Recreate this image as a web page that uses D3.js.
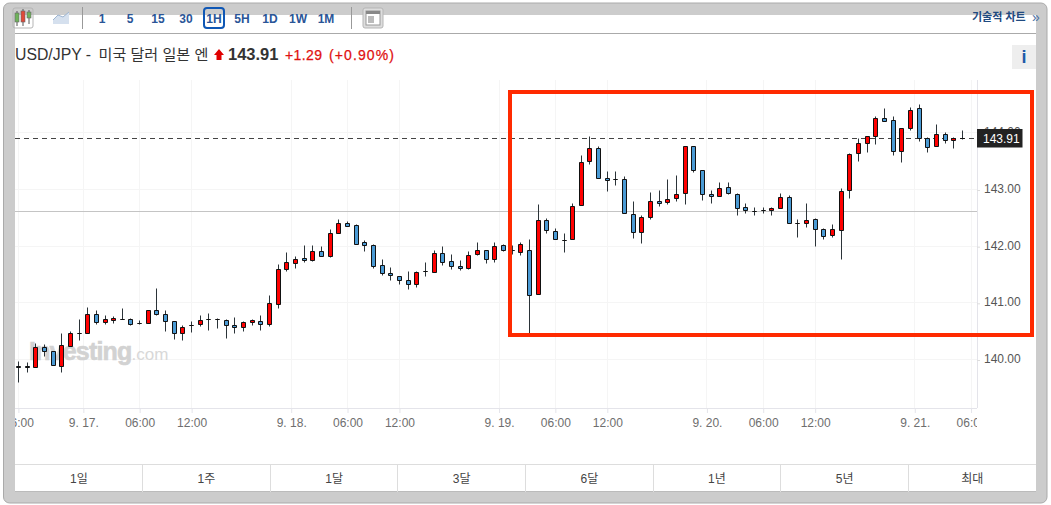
<!DOCTYPE html>
<html>
<head>
<meta charset="utf-8">
<script src="https://cdn.jsdelivr.net/npm/d3@7"></script>
<style>
  html, body { margin: 0; padding: 0; background: #fff; overflow: hidden; }
  svg { display: block; }
  text { font-family: "Liberation Sans", "Noto Sans CJK KR", sans-serif; }
</style>
</head>
<body>
<svg id="chart"></svg>
<script>
// candles, hourly
const opens = [139.88,139.88,139.86,140.21,140.14,139.87,140.23,140.46,140.46,140.79,
  140.66,140.69,140.71,140.71,140.64,140.64,140.86,140.80,140.67,140.46,
  140.60,140.61,140.71,140.71,140.69,140.60,140.57,140.65,140.67,140.61,
  140.97,141.59,141.70,141.79,141.75,141.91,141.82,142.23,142.40,142.37,
  142.07,142.01,141.66,141.52,141.47,141.40,141.33,141.56,141.54,141.87,
  141.73,141.64,141.61,141.86,141.93,141.77,142.01,141.92,141.89,141.93,
  141.15,142.46,142.26,142.10,142.12,142.72,143.50,143.73,143.20,143.18,
  143.18,142.56,142.24,142.51,142.79,142.77,142.84,142.93,143.76,143.34,
  142.91,142.88,143.04,142.91,142.69,142.62,142.63,142.63,142.67,142.86,
  142.40,142.40,142.47,142.30,142.19,142.28,142.99,143.64,143.81,143.94,
  144.26,144.22,143.67,144.08,144.43,143.90,143.76,143.97,143.87,143.90];
const highs = [139.97,139.95,140.29,140.26,140.14,140.46,140.50,140.71,140.92,140.87,
  140.78,140.76,140.90,140.73,140.69,140.87,141.26,140.86,140.67,140.60,
  140.67,140.78,140.81,140.73,140.71,140.74,140.67,140.70,140.77,141.13,
  141.68,141.89,141.82,142.01,142.01,142.00,142.30,142.47,142.44,142.39,
  142.10,142.03,141.77,141.63,141.47,141.56,141.56,141.71,141.93,142.00,
  141.86,141.75,141.91,142.07,141.93,142.07,142.03,142.01,142.07,142.11,
  142.73,142.49,142.31,142.23,142.76,143.60,143.94,143.76,143.32,143.32,
  143.23,142.79,142.54,142.95,142.98,143.18,143.25,143.76,143.76,143.34,
  142.98,143.13,143.13,142.93,142.76,142.69,142.69,142.69,142.93,142.90,
  142.47,142.76,142.49,142.31,142.39,143.02,143.64,143.90,143.94,144.29,
  144.43,144.29,144.08,144.45,144.50,143.92,144.15,144.01,143.92,144.04];
const lows = [139.59,139.77,139.86,140.05,139.90,139.77,140.23,140.33,140.46,140.61,
  140.61,140.63,140.71,140.60,140.61,140.64,140.77,140.49,140.35,140.33,
  140.47,140.58,140.51,140.54,140.37,140.46,140.49,140.60,140.51,140.58,
  140.90,141.55,141.60,141.71,141.73,141.82,141.80,142.23,142.35,142.03,
  141.90,141.60,141.49,141.39,141.32,141.23,141.27,141.46,141.54,141.66,
  141.59,141.57,141.59,141.84,141.70,141.71,141.91,141.86,141.84,140.46,
  141.15,142.22,142.12,141.89,142.12,142.72,143.44,143.20,142.96,143.07,
  142.58,142.13,142.04,142.47,142.70,142.73,142.78,142.73,143.30,142.80,
  142.75,142.88,142.91,142.54,142.57,142.54,142.57,142.54,142.67,142.40,
  142.15,142.33,141.99,142.12,142.15,141.76,142.84,143.49,143.65,143.79,
  144.20,143.60,143.47,144.04,143.84,143.65,143.76,143.81,143.72,143.88];
const closes = [139.86,139.86,140.21,140.14,139.90,140.25,140.46,140.46,140.79,140.66,
  140.71,140.73,140.71,140.61,140.64,140.87,140.80,140.67,140.46,140.57,
  140.60,140.69,140.71,140.71,140.60,140.57,140.65,140.69,140.61,140.99,
  141.59,141.71,141.77,141.75,141.91,141.82,142.23,142.40,142.35,142.03,
  142.01,141.64,141.52,141.49,141.40,141.33,141.54,141.56,141.87,141.71,
  141.64,141.61,141.84,141.93,141.77,142.00,141.93,141.92,142.03,141.13,
  142.46,142.28,142.12,142.10,142.70,143.48,143.73,143.20,143.16,143.18,
  142.58,142.24,142.51,142.79,142.76,142.83,142.91,143.76,143.34,142.91,
  142.88,143.02,142.93,142.67,142.63,142.62,142.63,142.67,142.86,142.40,
  142.40,142.46,142.30,142.17,142.30,142.97,143.62,143.81,143.94,144.26,
  144.20,143.67,144.08,144.40,143.90,143.74,143.97,143.87,143.90,143.90];

const priceTicks = [140, 141, 142, 143, 144];
const timeTickHours = [0, 7.5, 14, 20, 31.5, 38, 44, 55.5, 62, 68, 79.5, 86, 92, 103.5, 110];
const timeTickLabels = ['16:00','9. 17.','06:00','12:00','9. 18.','06:00','12:00','9. 19.','06:00','12:00','9. 20.','06:00','12:00','9. 21.','06:00'];
const lastPrice = 143.91;
const prevClose = 142.62;
const intervals = ['1','5','15','30','1H','5H','1D','1W','1M'];
const ranges = ['1일','1주','1달','3달','6달','1년','5년','최대'];

const width = 1051, height = 505;
const svg = d3.select('#chart').attr('width', width).attr('height', height);

const plotLeft = 15, plotRight = 977, plotTop = 80, plotBottom = 408;
const x = d3.scaleLinear().domain([0, 109]).range([18.4, 962.4]);
const y = d3.scaleLinear().domain([140, 143]).range([359.5, 189.5]);
const crisp = v => Math.floor(v) + 0.5;

// page frame
svg.append('rect').attr('x', 0).attr('y', 0).attr('width', width).attr('height', height).attr('fill', '#fff');
svg.append('rect').attr('x', 3.5).attr('y', 3).attr('width', 1043.5).attr('height', 500).attr('rx', 6)
  .attr('fill', '#ccc').attr('stroke', '#aaa');
svg.append('rect').attr('x', 15).attr('y', 15).attr('width', 1021).attr('height', 477).attr('fill', '#fff');
svg.append('line').attr('x1', 15).attr('x2', 1036).attr('y1', 33.5).attr('y2', 33.5).attr('stroke', '#aaa');

// toolbar
const toolbar = svg.append('g');
toolbar.append('rect').attr('x', 13).attr('y', 8).attr('width', 20).attr('height', 20).attr('rx', 2)
  .attr('fill', 'none').attr('stroke', '#b5b5b5');
[[17, 11, 26, 13, 22, '#6fb35c'], [23, 9, 26, 11, 22, '#e04a3a'], [29, 10, 24, 12, 18, '#6fb35c']].forEach(c => {
  toolbar.append('line').attr('x1', c[0]).attr('x2', c[0]).attr('y1', c[1]).attr('y2', c[2]).attr('stroke', '#555');
  toolbar.append('rect').attr('x', c[0] - 2).attr('y', c[3]).attr('width', 4).attr('height', c[4] - c[3])
    .attr('fill', c[5]).attr('stroke', '#666').attr('stroke-width', 0.6);
});
toolbar.append('path').attr('d', 'M53 20 L58 15 L63 17 L69 12 V24 H53 Z').attr('fill', '#d5e0ee').attr('stroke', 'none');
toolbar.append('path').attr('d', 'M53 20 L58 15 L63 17 L69 12').attr('fill', 'none').attr('stroke', '#9db4d0');
[82.5, 351.5].forEach(px => toolbar.append('line').attr('x1', px).attr('x2', px).attr('y1', 7).attr('y2', 29).attr('stroke', '#999'));

const intervalX = d3.scalePoint().domain(intervals).range([102, 326]);
toolbar.selectAll('text.interval').data(intervals).enter().append('text')
  .attr('class', 'interval')
  .attr('x', d => intervalX(d)).attr('y', 22.5)
  .attr('text-anchor', 'middle').attr('font-size', 12).attr('font-weight', 700)
  .attr('fill', '#2a5597').text(d => d);
toolbar.append('rect').attr('x', 204).attr('y', 8).attr('width', 20).attr('height', 20).attr('rx', 3)
  .attr('fill', 'none').attr('stroke', '#0f57b5').attr('stroke-width', 2);
toolbar.append('rect').attr('x', 363).attr('y', 8).attr('width', 20).attr('height', 20).attr('rx', 2)
  .attr('fill', '#ddd').attr('stroke', '#b5b5b5');
toolbar.append('rect').attr('x', 366).attr('y', 11).attr('width', 14).attr('height', 14).attr('fill', '#fff').attr('stroke', '#999');
toolbar.append('rect').attr('x', 366).attr('y', 11).attr('width', 14).attr('height', 3).attr('fill', '#888');
toolbar.append('rect').attr('x', 368).attr('y', 16).attr('width', 6).attr('height', 7).attr('fill', '#bbb');
toolbar.append('text').attr('x', 972).attr('y', 21).attr('font-size', 11).attr('font-weight', 700)
  .attr('font-family', '"Noto Sans CJK KR"').attr('fill', '#1f4a80').text('기술적 차트');
toolbar.append('text').attr('x', 1032).attr('y', 21.5).attr('font-size', 14).attr('fill', '#4a6fa5').text('»');

// title row
svg.append('text').attr('x', 15).attr('y', 60).attr('font-size', 15.8).attr('fill', '#333').text('USD/JPY -');
svg.append('text').attr('x', 98.5).attr('y', 60).attr('font-size', 15.1).attr('fill', '#333').text('미국 달러 일본 엔');
svg.append('path').attr('d', 'M219 49 L224 55 H221.5 V60 H216.5 V55 H214 Z').attr('fill', '#e00000');
svg.append('text').attr('x', 228).attr('y', 60).attr('font-size', 16.5).attr('font-weight', 700).attr('fill', '#333').text(lastPrice.toFixed(2));
svg.append('text').attr('x', 285).attr('y', 60).attr('font-size', 14).attr('font-family', 'Roboto').attr('font-weight', 500).attr('letter-spacing', 0.4).attr('stroke', '#e01010').attr('stroke-width', 0.25).attr('fill', '#e01010').text('+1.29');
svg.append('text').attr('x', 329).attr('y', 60).attr('font-size', 14).attr('font-family', 'Roboto').attr('font-weight', 500).attr('letter-spacing', 1.1).attr('stroke', '#e01010').attr('stroke-width', 0.25).attr('fill', '#e01010').text('(+0.90%)');
svg.append('rect').attr('x', 1012).attr('y', 45).attr('width', 24).attr('height', 24).attr('fill', '#eee');
svg.append('text').attr('x', 1024).attr('y', 63).attr('text-anchor', 'middle').attr('font-size', 18).attr('font-weight', 700)
  .attr('font-family', '"Liberation Serif"').attr('fill', '#1f5aa8').text('i');

// grid
const grid = svg.append('g');
grid.selectAll('line.h').data(priceTicks).enter().append('line')
  .attr('x1', plotLeft).attr('x2', plotRight)
  .attr('y1', d => crisp(y(d))).attr('y2', d => crisp(y(d)))
  .attr('stroke', '#f5f5f5');
grid.selectAll('line.v').data(timeTickHours).enter().append('line')
  .attr('x1', d => crisp(x(d))).attr('x2', d => crisp(x(d)))
  .attr('y1', plotTop).attr('y2', plotBottom)
  .attr('stroke', '#f5f5f5');

// watermark
const mark = svg.append('text').attr('x', 29).attr('y', 360);
mark.append('tspan').attr('font-size', 25).attr('font-weight', 700).attr('letter-spacing', -0.8)
  .attr('fill', '#d2d2d2').attr('stroke', '#d2d2d2').attr('stroke-width', 0.6).text('Investing');
mark.append('tspan').attr('font-size', 17).attr('fill', '#d8d8d8').text('.com');

// axes frame
svg.append('line').attr('x1', plotLeft).attr('x2', plotRight).attr('y1', plotBottom + 0.5).attr('y2', plotBottom + 0.5).attr('stroke', '#e4e4ea');
svg.append('line').attr('x1', plotRight + 0.5).attr('x2', plotRight + 0.5).attr('y1', plotTop).attr('y2', plotBottom).attr('stroke', '#e4e4ea');

// price reference lines
svg.append('line').attr('x1', plotLeft).attr('x2', plotRight)
  .attr('y1', crisp(y(prevClose))).attr('y2', crisp(y(prevClose)))
  .attr('stroke', '#c4c4c4');
svg.append('line').attr('x1', plotLeft).attr('x2', plotRight)
  .attr('y1', crisp(y(lastPrice) + 0.5)).attr('y2', crisp(y(lastPrice) + 0.5))
  .attr('stroke', '#444').attr('stroke-dasharray', '5,4');

// candles
const candles = svg.append('g').selectAll('g').data(d3.range(opens.length)).enter().append('g');
candles.append('line')
  .attr('x1', i => crisp(x(i))).attr('x2', i => crisp(x(i)))
  .attr('y1', i => crisp(y(highs[i]))).attr('y2', i => crisp(y(lows[i])))
  .attr('stroke', '#2b3338');
candles.append('path')
  .attr('d', i => {
    const cx = crisp(x(i));
    const top = crisp(y(Math.max(opens[i], closes[i])));
    const bottom = crisp(y(Math.min(opens[i], closes[i])));
    return `M${cx - 2} ${top}H${cx + 2}V${bottom}H${cx - 2}Z`;
  })
  .attr('fill', i => closes[i] >= opens[i] ? '#ff0000' : '#4a9ad4')
  .attr('stroke', '#111');

// right axis, 144.00 sits behind the last price label
const yAxis = d3.axisRight(y).tickValues(priceTicks).tickFormat(d3.format('.2f')).tickSize(3).tickPadding(4);
const yG = svg.append('g').attr('transform', `translate(${plotRight},0)`).call(yAxis);
yG.select('.domain').remove();
yG.selectAll('line').attr('stroke', '#ddd').attr('y1', 0.5).attr('y2', 0.5);
yG.selectAll('text').attr('font-size', 12).attr('fill', '#555').attr('font-family', 'Roboto').attr('y', -1);

// last price label
svg.append('rect').attr('x', plotRight).attr('y', 129).attr('width', 45.5).attr('height', 18.5).attr('fill', '#222');
svg.append('text').attr('x', plotRight + 6).attr('y', 143).attr('font-size', 12).attr('font-family', 'Roboto')
  .attr('fill', '#fff').text(lastPrice.toFixed(2));

// bottom axis, labels clipped to the plot width
svg.append('clipPath').attr('id', 'xclip').append('rect')
  .attr('x', plotLeft).attr('y', 0).attr('width', plotRight - plotLeft).attr('height', 30);
const xAxis = d3.axisBottom(x).tickValues(timeTickHours)
  .tickFormat((d, i) => timeTickLabels[i]).tickSize(5).tickPadding(5);
const xG = svg.append('g').attr('transform', `translate(0,${plotBottom})`)
  .attr('clip-path', 'url(#xclip)').call(xAxis);
xG.select('.domain').remove();
xG.selectAll('line').attr('stroke', '#e4e4ea');
xG.selectAll('text').attr('font-size', 12).attr('fill', '#6e6e6e').attr('font-family', 'Roboto');

// range buttons
const rangeX = d3.scaleBand().domain(ranges).range([15, 1036]);
const rangeG = svg.append('g');
rangeG.append('line').attr('x1', 15).attr('x2', 1036).attr('y1', 464.5).attr('y2', 464.5).attr('stroke', '#ddd');
rangeG.append('line').attr('x1', 15).attr('x2', 1036).attr('y1', 491.5).attr('y2', 491.5).attr('stroke', '#bbb');
rangeG.selectAll('line.div').data(ranges.slice(1)).enter().append('line')
  .attr('x1', d => crisp(rangeX(d))).attr('x2', d => crisp(rangeX(d)))
  .attr('y1', 465).attr('y2', 492).attr('stroke', '#ddd');
rangeG.selectAll('text').data(ranges).enter().append('text')
  .attr('x', d => rangeX(d) + rangeX.bandwidth() / 2).attr('y', 483)
  .attr('text-anchor', 'middle').attr('font-size', 12).attr('fill', '#444')
  .attr('font-family', '"Noto Sans CJK KR"').text(d => d);

// red highlight box
svg.append('rect').attr('x', 510).attr('y', 92).attr('width', 522).attr('height', 243)
  .attr('fill', 'none').attr('stroke', '#ff2a00').attr('stroke-width', 4);
</script>
</body>
</html>
